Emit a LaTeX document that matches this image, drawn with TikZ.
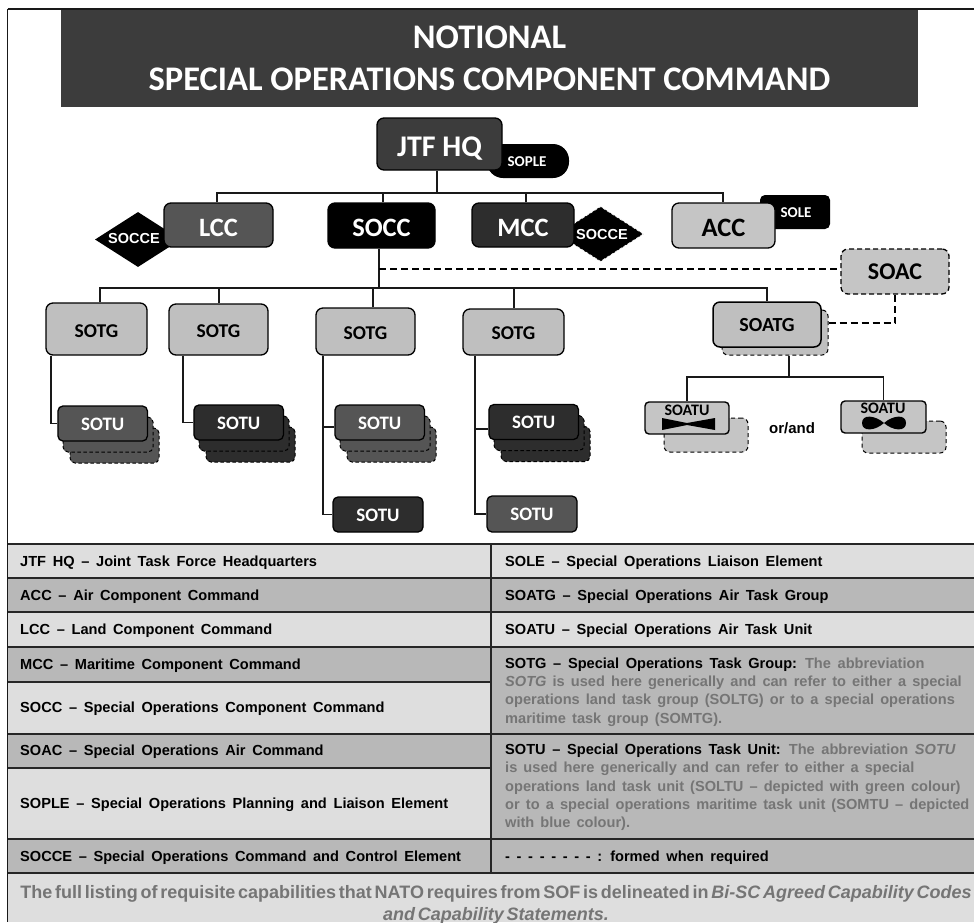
\documentclass[tikz,border=0pt]{standalone}
\usepackage{fontspec}
\setmainfont{Liberation Sans}
\newfontfamily\carlito{Carlito}
\usetikzlibrary{shapes.geometric}
\definecolor{dk}{HTML}{2D2D2D}
\definecolor{md}{HTML}{555555}
\definecolor{hq}{HTML}{3C3C3C}
\definecolor{lt}{HTML}{BFBFBF}
\definecolor{cl}{HTML}{DEDEDE}
\definecolor{cd}{HTML}{B8B8B8}
\definecolor{gt}{HTML}{757575}
\newcommand{\dn}[2]{\raisebox{-#1pt}[0pt][0pt]{#2}}
\newcommand{\rowsp}{\setlength{\spaceskip}{6.66pt}}
\newcommand{\grsp}{\setlength{\spaceskip}{6.1pt}}
\newcommand{\footsp}{\setlength{\spaceskip}{2.75pt}}
\tikzset{
  x=1pt,y=-1pt,
  conn/.style={line width=1.7pt,draw=black!90},
  dconn/.style={line width=1.4pt,draw=black,dash pattern=on 7pt off 4pt},
  box/.style={draw=black,line width=1.3pt,rounded corners=7pt,inner sep=0pt,text=white,font=\carlito\bfseries\fontsize{26.5}{26.5}\selectfont},
  lbox/.style={box,text=black},
  tg/.style={lbox,fill=lt,font=\carlito\bfseries\fontsize{19.5}{19.5}\selectfont},
  tu/.style={box,font=\carlito\bfseries\fontsize{19}{19}\selectfont,rounded corners=5pt},
  tuback/.style={draw=black,line width=1pt,dash pattern=on 3.5pt off 2.5pt,rounded corners=5pt,inner sep=0pt},
  rowtxt/.style={font=\bfseries\fontsize{14.6}{18.35}\selectfont,anchor=west,inner sep=0pt,align=left},
  rowline/.style={line width=1.3pt,draw=black!85},
}
\begin{document}
\begin{tikzpicture}
\useasboundingbox (0,0) rectangle (974,922);
\fill[white] (0,0) rectangle (974,922);
% title
\node[fill=hq,minimum width=857,minimum height=97,inner sep=0pt,text=white,align=center,font=\carlito\bfseries\fontsize{34.5}{42}\selectfont] (title) at (489.5,58.5) {NOTIONAL\\SPECIAL OPERATIONS COMPONENT COMMAND};
% helpers
\coordinate (busA) at (437,193);
\coordinate (busAl) at (217,193);
\coordinate (busAr) at (723,193);
\coordinate (busB) at (379,288);
\coordinate (busBl) at (100,288);
\coordinate (busBr) at (767,288);
\coordinate (busC) at (789,377);
% under-shapes
\node[fill=black,rounded corners=16pt,minimum width=82,minimum height=34,inner sep=0pt] (soplebg) at (528,161) {};
\node[fill=black,rounded corners=5pt,minimum width=70,minimum height=34,inner sep=0pt] (solebg) at (795,212) {};
\node[diamond,aspect=1.55,fill=black,inner sep=0pt,minimum width=86,minimum height=55] (d1) at (138,239.5) {};
\node[diamond,aspect=1.55,fill=black,draw=white,densely dashed,line width=.6pt,inner sep=0pt,minimum width=86,minimum height=55] (d2) at (600.5,234) {};
% top boxes
\node[box,fill=hq,minimum width=125,minimum height=52,font=\carlito\bfseries\fontsize{30}{30}\selectfont] (jtf) at (439.5,144) {\dn{12}{JTF HQ}};
\node[box,fill=md,minimum width=109,minimum height=44] (lcc) at (218.5,225) {\dn{11.5}{LCC}};
\node[box,fill=black,minimum width=107,minimum height=45] (socc) at (381.5,225.5) {\dn{11}{SOCC}};
\node[box,fill=dk,minimum width=102,minimum height=44] (mcc) at (523,225) {\dn{11.5}{MCC}};
\node[lbox,fill=lt!80!cl,minimum width=103,minimum height=45] (acc) at (723.5,225.5) {\dn{11}{ACC}};
\node[lbox,fill=lt!80!cl,dash pattern=on 5pt off 3pt,minimum width=108,minimum height=45,font=\carlito\bfseries\fontsize{24}{24}\selectfont] (soac) at (895,271.5) {\dn{7.5}{SOAC}};
\node[text=white,inner sep=0pt,font=\carlito\bfseries\fontsize{15}{15}\selectfont] (sople) at (527,162) {SOPLE};
\node[text=white,inner sep=0pt,font=\carlito\bfseries\fontsize{15}{15}\selectfont] (sole) at (796,213) {SOLE};
\node[text=white,inner sep=0pt,font=\bfseries\fontsize{14.5}{14.5}\selectfont] (dt1) at (134,239) {SOCCE};
\node[text=white,inner sep=0pt,font=\bfseries\fontsize{14.5}{14.5}\selectfont] (dt2) at (602,235) {SOCCE};
% SOTG
\node[tg,minimum width=101,minimum height=52] (g1) at (96.5,329) {\dn{8.7}{SOTG}};
\node[tg,minimum width=99,minimum height=51] (g2) at (218.5,329.5) {\dn{8.2}{SOTG}};
\node[tg,minimum width=99,minimum height=47] (g3) at (365.5,331.5) {\dn{7.5}{SOTG}};
\node[tg,minimum width=101,minimum height=46] (g4) at (513.5,332) {\dn{7}{SOTG}};
% SOATG
\node[draw=black,fill=lt,line width=1pt,dash pattern=on 4pt off 3pt,rounded corners=6pt,minimum width=106,minimum height=45,inner sep=0pt] (atgb) at (775,332.5) {};
\node[tg,fill=lt,minimum width=108,minimum height=45,line width=1.5pt,font=\carlito\bfseries\fontsize{20}{20}\selectfont] (atg) at (767,324.5) {\dn{7.2}{SOATG}};
% SOATU
\node[draw=black,fill=lt!80!cl,line width=1pt,dash pattern=on 4pt off 3pt,rounded corners=6pt,minimum width=84,minimum height=34,inner sep=0pt] (ua1b) at (706,435) {};
\node[draw=black,fill=lt!80!cl,line width=1pt,dash pattern=on 4pt off 3pt,rounded corners=6pt,minimum width=84,minimum height=32,inner sep=0pt] (ua2b) at (904,437) {};
\node[lbox,fill=lt!80!cl,rounded corners=4pt,minimum width=84,minimum height=32,line width=1.4pt] (ua1) at (687,418) {};
\node[lbox,fill=lt!80!cl,rounded corners=4pt,minimum width=85,minimum height=32,line width=1.4pt] (ua2) at (883.5,417) {};
\node[inner sep=0pt,font=\carlito\bfseries\fontsize{16}{16}\selectfont] (ua1t) at (687,410) {SOATU};
\node[inner sep=0pt,font=\carlito\bfseries\fontsize{16}{16}\selectfont] (ua2t) at (883,408) {SOATU};
\fill[black] (662,418) -- (687,423) -- (715,418) -- (715,430) -- (687,425) -- (662,430) -- cycle;
\fill[black] (884,423) .. controls (875,415) and (862,414) .. (862,423) .. controls (862,432) and (875,431) .. (884,423) .. controls (893,415) and (906,414) .. (906,423) .. controls (906,432) and (893,431) .. (884,423) -- cycle;
\node[inner sep=0pt,font=\bfseries\fontsize{15}{15}\selectfont] (orand) at (792,428) {or/and};
% SOTU stacks
\foreach \nm/\x/\y/\c in {s1/58/406/md,s2/194/405/dk,s3/335/405/md,s4/489/404.5/dk}{
  \fill[\c,draw=black,tuback] (\x+12,\y+22) rectangle (\x+101,\y+57);
  \fill[\c,draw=black,tuback] (\x+5,\y+11) rectangle (\x+95,\y+46);
  \node[tu,fill=\c,minimum width=89.5,minimum height=35] (\nm) at (\x+44.7,\y+17.5) {\dn{6.8}{SOTU}};
}
\node[tu,fill=dk,minimum width=90,minimum height=35] (s5) at (378,514.5) {\dn{6.5}{SOTU}};
\node[tu,fill=md,minimum width=90,minimum height=36] (s6) at (532,514) {\dn{6.7}{SOTU}};
% connectors
\draw[conn] (jtf.south -| busA) -- (busA);
\draw[conn] (lcc.north -| busAl) -- (busAl) -- (busAr) -- (acc.north -| busAr);
\draw[conn] (socc.north -| 383,0) -- (383,193);
\draw[conn] (mcc.north -| 526,0) -- (526,193);
\draw[conn] (socc.south -| busB) -- (busB);
\draw[conn] (g1.north -| busBl) -- (busBl) -- (busBr) -- (atg.north -| busBr);
\draw[conn] (g2.north -| 219,0) -- (219,288);
\draw[conn] (g3.north -| 373,0) -- (373,288);
\draw[conn] (g4.north -| 514,0) -- (514,288);
\draw[dconn] (379,269) -- (soac.west |- 0,269);
\draw[dconn] (atgb.east |- 0,323) -- (895,323) -- (soac.south -| 895,0);
\draw[conn] (atgb.south -| busC) -- (busC);
\draw[conn] (ua1.north) -- (ua1.north |- busC) -- (ua2.north |- busC) -- (ua2.north);
\draw[conn] (g1.south -| 51,0) |- (s1.west);
\draw[conn] (g2.south -| 183,0) |- (s2.west);
\draw[conn] (g3.south -| 323,0) |- (s5.west);
\draw[conn] (323,427) -- (s3.west |- 0,427);
\draw[conn] (g4.south -| 475,0) |- (s6.west);
\draw[conn] (475,429) -- (s4.west |- 0,429);
% table
\foreach \xa/\ya/\xb/\yb/\c in {8/544/491/578/cl,8/578/491/612/cd,8/612/491/647/cl,8/647/491/682/cd,8/682/491/734/cl,8/734/491/768/cd,8/768/491/839/cl,8/839/491/873/cd,
 491/544/974/578/cl,491/578/974/612/cd,491/612/974/647/cl,491/647/974/734/cd,491/734/974/839/cd,491/839/974/873/cd,8/873/974/922/cl}{
  \fill[\c] (\xa,\ya) rectangle (\xb,\yb);
}
\foreach \y in {544,578,612,647,734,839,873}{\draw[rowline] (7,\y) -- (974,\y);}
\foreach \y in {682,768}{\draw[rowline] (7,\y) -- (491,\y);}
\draw[rowline] (491,544) -- (491,873);
\draw[line width=1.1pt,draw=black!90] (7.5,9) -- (7.5,922);
\draw[line width=1.1pt,draw=black!90] (7.5,9) -- (974,9);
% texts
\node[rowtxt] (t1) at (20,562.5) {\rowsp JTF HQ – Joint Task Force Headquarters};
\node[rowtxt] (t2) at (20,596.5) {\rowsp ACC – Air Component Command};
\node[rowtxt] (t3) at (20,631) {\rowsp LCC – Land Component Command};
\node[rowtxt] (t4) at (20,665.5) {\rowsp MCC – Maritime Component Command};
\node[rowtxt] (t5) at (20,709) {\rowsp SOCC – Special Operations Component Command};
\node[rowtxt] (t6) at (20,752) {\rowsp SOAC – Special Operations Air Command};
\node[rowtxt] (t7) at (20,805) {\rowsp SOPLE – Special Operations Planning and Liaison Element};
\node[rowtxt] (t8) at (20,857.5) {\rowsp SOCCE – Special Operations Command and Control Element};
\node[rowtxt] (r1) at (505,562.5) {\rowsp SOLE – Special Operations Liaison Element};
\node[rowtxt] (r2) at (505,596.5) {\rowsp SOATG – Special Operations Air Task Group};
\node[rowtxt] (r3) at (505,631) {\rowsp SOATU – Special Operations Air Task Unit};
\node[rowtxt] (r4) at (505,692) {\rowsp SOTG – Special Operations Task Group: \textcolor{gt}{The abbreviation}\\
\grsp\textcolor{gt}{\textit{SOTG} is used here generically and can refer to either a special}\\
\grsp\textcolor{gt}{operations land task group (SOLTG) or to a special operations}\\
\grsp\textcolor{gt}{maritime task group (SOMTG).}};
\node[rowtxt] (r5) at (505,787.5) {\rowsp SOTU – Special Operations Task Unit: \textcolor{gt}{The abbreviation \textit{SOTU}}\\
\grsp\textcolor{gt}{is used here generically and can refer to either a special}\\
\grsp\textcolor{gt}{operations land task unit (SOLTU – depicted with green colour)}\\
\grsp\textcolor{gt}{or to a special operations maritime task unit (SOMTU – depicted}\\
\grsp\textcolor{gt}{with blue colour).}};
\node[rowtxt] (r6) at (505,857.5) {\rowsp - - - - - - - - : formed when required};
\node[inner sep=0pt,align=center,text=gt,font=\bfseries\fontsize{18}{22}\selectfont] (foot) at (496,904.5) {\footsp The full listing of requisite capabilities that NATO requires from SOF is delineated in \textit{Bi-SC Agreed Capability Codes}\\\footsp\textit{and Capability Statements.}};
\end{tikzpicture}
\end{document}
